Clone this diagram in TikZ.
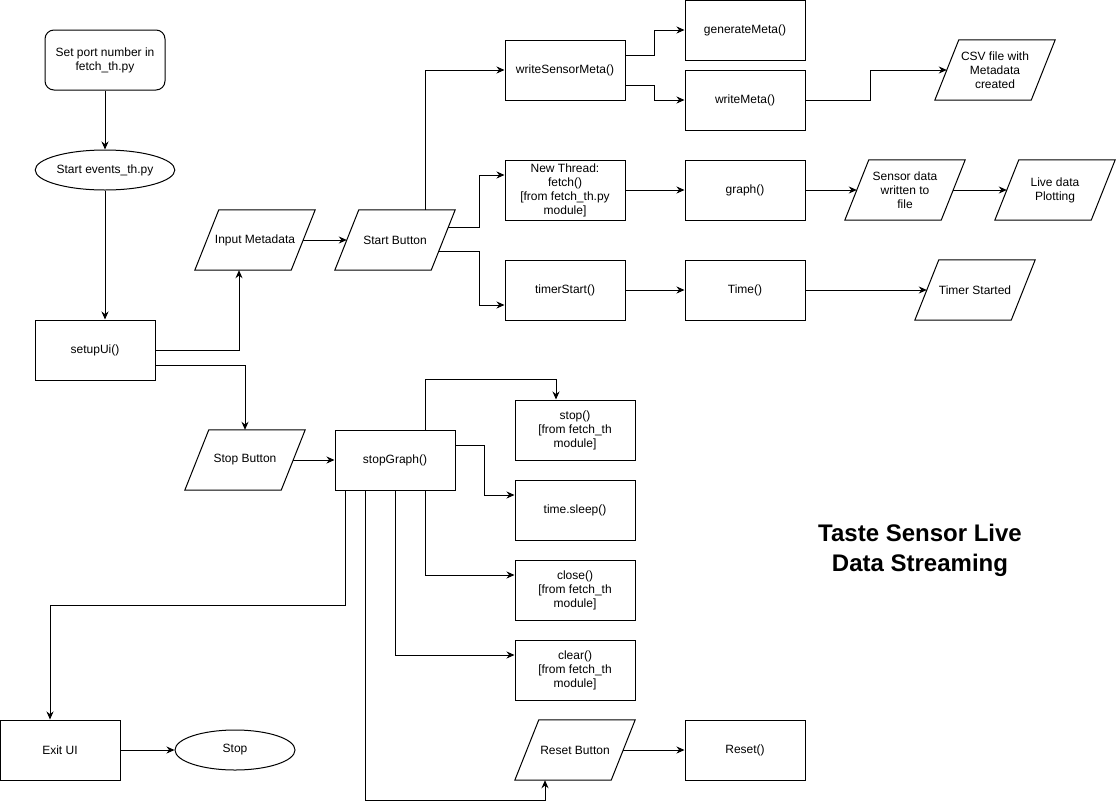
\documentclass[tikz,border=0pt]{standalone}
\usepackage{fontspec}
\setmainfont{Liberation Sans}
\usetikzlibrary{arrows.meta,shapes.geometric,calc}

\tikzset{
    txt/.style={font=\fontsize{12}{14}\selectfont, align=center},
    proc/.style={txt, draw, line width=1pt, minimum width=120pt, minimum height=60pt, inner sep=2pt},
    roundproc/.style={proc, rounded corners=9pt},
    term/.style={txt, draw, ellipse, line width=1pt, minimum width=120pt, minimum height=40pt, inner sep=1pt},
    para/.style={txt, minimum width=96pt, minimum height=60pt, inner sep=2pt,
        append after command={\pgfextra{\draw[line width=1pt]
            ([xshift=-12pt]\tikzlastnode.south west) -- ([xshift=12pt]\tikzlastnode.north west) --
            ([xshift=12pt]\tikzlastnode.north east) -- ([xshift=-12pt]\tikzlastnode.south east) -- cycle;}}},
    link/.style={line width=1pt, -{Stealth[length=8pt,width=7pt]}}
}

\begin{document}
\begin{tikzpicture}[x=1pt, y=-1pt]
    \useasboundingbox (0,0) rectangle (1116,809);
    \node[roundproc] (setport) at (105,60) {Set port number in\\fetch\_th.py};
    \node[term] (startev) at (105,170) {Start events\_th.py};
    \node[proc] (setupui) at (95,350) {setupUi()};
    \node[para] (inmeta) at (255,240) {Input Metadata};
    \node[para] (startbtn) at (395,240) {Start Button};
    \node[proc] (wsm) at (565,70) {writeSensorMeta()};
    \node[proc] (genmeta) at (745,30) {generateMeta()};
    \node[proc] (wmeta) at (745,100) {writeMeta()};
    \node[para] (csv) at (995,70) {CSV file with\\Metadata\\created};
    \node[proc] (newthr) at (565,190) {New Thread:\\fetch()\\{}[from fetch\_th.py\\module]};
    \node[proc] (graph) at (745,190) {graph()};
    \node[para] (sensdat) at (905,190) {Sensor data\\written to\\file};
    \node[para] (live) at (1055,190) {Live data\\Plotting};
    \node[proc] (tstart) at (565,290) {timerStart()};
    \node[proc] (timef) at (745,290) {Time()};
    \node[para] (tstarted) at (975,290) {Timer Started};
    \node[para] (stopbtn) at (245,460) {Stop Button};
    \node[proc] (stopgr) at (395,460) {stopGraph()};
    \node[proc] (stopf) at (575,430) {stop()\\{}[from fetch\_th\\module]};
    \node[proc] (sleep) at (575,510) {time.sleep()};
    \node[proc] (closef) at (575,590) {close()\\{}[from fetch\_th\\module]};
    \node[proc] (clearf) at (575,670) {clear()\\{}[from fetch\_th\\module]};
    \node[proc] (exitui) at (60,750) {Exit UI};
    \node[term] (stopend) at (235,750) {Stop};
    \node[para] (resetbtn) at (575,750) {Reset Button};
    \node[proc] (reset) at (745,750) {Reset()};
    \node[font=\bfseries\fontsize{24}{30}\selectfont, align=center] (title) at (920,550) {Taste Sensor Live\\Data Streaming};

    \draw[link] (setport) -- (startev);
    \draw[link] (startev) -- (startev |- setupui.north);
    \draw[link] (setupui.east) -| ([xshift=-16pt]inmeta.south);
    \draw[link] ([yshift=-15pt]setupui.east) -| (stopbtn.north);
    \draw[link] (inmeta.east) -- (startbtn.west);
    \draw[link] ([xshift=30pt]startbtn.north) |- (wsm.west);
    \draw[link] ([xshift=5.2pt,yshift=13pt]startbtn.east) -| ([xshift=-25pt,yshift=15pt]newthr.west) -- ([yshift=15pt]newthr.west);
    \draw[link] ([xshift=-4.4pt,yshift=-11pt]startbtn.east) -| ([xshift=-25pt,yshift=-15pt]tstart.west) -- ([yshift=-15pt]tstart.west);
    \draw[link] ([yshift=15pt]wsm.east) -| ([xshift=-30pt]genmeta.west) -- (genmeta.west);
    \draw[link] ([yshift=-15pt]wsm.east) -| ([xshift=-30pt]wmeta.west) -- (wmeta.west);
    \draw[link] (wmeta.east) -- ++(65pt,0) |- (csv.west);
    \draw[link] (newthr.east) -- (graph.west);
    \draw[link] (graph.east) -- (sensdat.west);
    \draw[link] (sensdat.east) -- (live.west);
    \draw[link] (tstart.east) -- (timef.west);
    \draw[link] (timef.east) -- (tstarted.west);
    \draw[link] (stopbtn.east) -- (stopgr.west);
    \draw[link] ([xshift=30pt]stopgr.north) -- ++(0,50pt) -| ([xshift=-19pt]stopf.north);
    \draw[link] ([yshift=15pt]stopgr.east) -| ([xshift=-30pt,yshift=15pt]sleep.west) -- ([yshift=15pt]sleep.west);
    \draw[link] ([xshift=30pt]stopgr.south) |- ([yshift=15pt]closef.west);
    \draw[link] (stopgr.south) |- ([yshift=15pt]clearf.west);
    \draw[link] ([xshift=-30pt]stopgr.south) -- ++(0,-310pt) -| ([xshift=-30pt]resetbtn.south);
    \draw[link] ([xshift=-50pt]stopgr.south) -- ++(0,-115pt) -| ([xshift=-10pt]exitui.north);
    \draw[link] (exitui.east) -- (stopend.west);
    \draw[link] (resetbtn.east) -- (reset.west);
\end{tikzpicture}
\end{document}
